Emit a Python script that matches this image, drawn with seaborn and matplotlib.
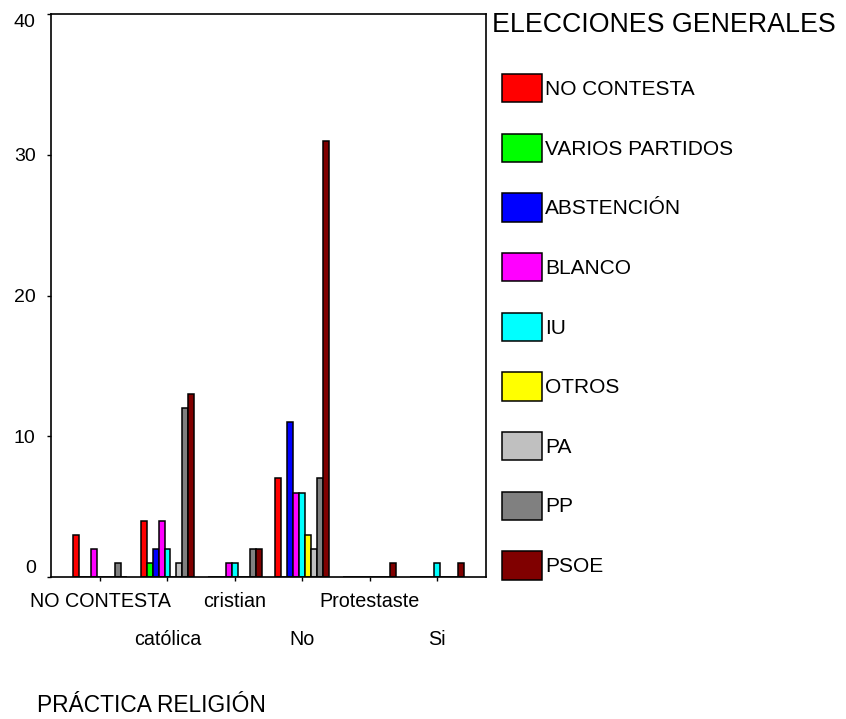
import matplotlib
matplotlib.use("Agg")
import matplotlib.pyplot as plt
from matplotlib.patches import Patch
import seaborn as sns
import pandas as pd

categories = ["NO CONTESTA", "católica", "cristian", "No", "Protestaste", "Si"]
parties = ["NO CONTESTA", "VARIOS PARTIDOS", "ABSTENCIÓN", "BLANCO", "IU",
           "OTROS", "PA", "PP", "PSOE"]
colors = ["#FF0000", "#00FF00", "#0000FF", "#FF00FF", "#00FFFF",
          "#FFFF00", "#C0C0C0", "#808080", "#800000"]

# counts per religion category, in party order
v_no_contesta = [3, 0, 0, 2, 0, 0, 0, 1, 0]
v_catolica    = [4, 1, 2, 4, 2, 0, 1, 12, 13]
v_cristian    = [0, 0, 0, 1, 1, 0, 0, 2, 2]
v_no          = [7, 0, 11, 6, 6, 3, 2, 7, 31]
v_protestaste = [0, 0, 0, 0, 0, 0, 0, 0, 1]
v_si          = [0, 0, 0, 0, 1, 0, 0, 0, 1]

y_ticks = [0, 10, 20, 30, 40]

values = [v_no_contesta, v_catolica, v_cristian, v_no, v_protestaste, v_si]
rows = []
for cat, vals in zip(categories, values):
    for p, v in zip(parties, vals):
        rows.append({"religion": cat, "party": p, "count": v})
df = pd.DataFrame(rows)

sns.set_style("white")
plt.rcParams["font.family"] = ["Liberation Sans", "DejaVu Sans"]
plt.rcParams["text.color"] = "black"
plt.rcParams["xtick.color"] = "black"
plt.rcParams["ytick.color"] = "black"
plt.rcParams["axes.labelcolor"] = "black"

fig = plt.figure(figsize=(8.46, 7.19), dpi=100)
ax = fig.add_axes([51 / 846, 1 - 577 / 719, (486 - 51) / 846, (577 - 14) / 719])

sns.barplot(data=df, x="religion", y="count", hue="party", order=categories,
            hue_order=parties, palette=colors, edgecolor="black", linewidth=1.1,
            width=0.8, ax=ax, legend=False, errorbar=None, saturation=1)

ax.set_xlim(-0.73, 5.73)
ax.set_ylim(0, 40)
ax.set_yticks(y_ticks)
ax.set_yticklabels([str(t) for t in y_ticks], fontsize=14, color="black")
ylabels = ax.get_yticklabels()
ylabels[0].set_verticalalignment("bottom")
ylabels[-1].set_verticalalignment("top")
ax.set_xlabel("")
ax.set_ylabel("")
for s in ax.spines.values():
    s.set_visible(True)
    s.set_color("black")
    s.set_linewidth(1.2)

ax.tick_params(axis="both", direction="out", length=3, width=1, color="black",
               labelcolor="black", left=True, bottom=True)
ax.tick_params(axis="y", pad=8)
ax.set_xticks(range(len(categories)))
ax.set_xticklabels(categories, fontsize=14.2, color="black")
for i, t in enumerate(ax.xaxis.get_major_ticks()):
    t.set_pad(8 if i % 2 == 0 else 35)

fig.text(37 / 846, 1 - 705 / 719, "PRÁCTICA RELIGIÓN", fontsize=16.4,
         ha="left", va="center", color="black")

fig.text(492 / 846, 1 - 25 / 719, "ELECCIONES GENERALES", fontsize=19.3,
         ha="left", va="center", color="black")

handles = [Patch(facecolor=c, edgecolor="black", linewidth=1.1) for c in colors]
fig.legend(handles, parties, loc="upper left",
           bbox_to_anchor=(502 / 846, 1 - 74 / 719), frameon=False,
           fontsize=15, handlelength=1.93, handleheight=1.72,
           handletextpad=0.15, labelspacing=1.5, borderpad=0,
           borderaxespad=0, labelcolor="black")

fig.savefig("out.png", dpi=100)
